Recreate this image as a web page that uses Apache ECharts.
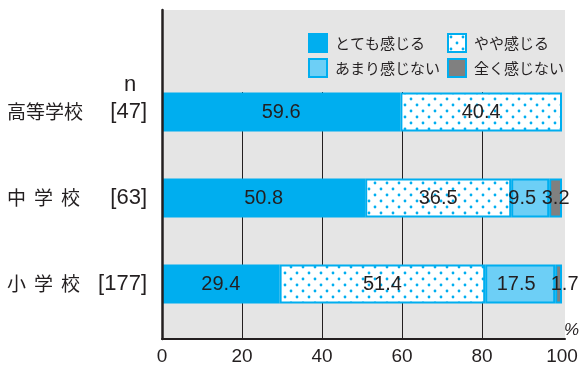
<!DOCTYPE html>
<html>
<head>
<meta charset="utf-8">
<script src="https://cdn.jsdelivr.net/npm/echarts@6/dist/echarts.min.js"></script>
<style>
  html, body { margin: 0; padding: 0; background: #ffffff; }
  #chart { width: 583px; height: 366px; }
</style>
</head>
<body>
<div id="chart"></div>
<script>
// Survey answers by school level (percent of respondents)
const categories = ['高等学校', '中学校', '小学校'];
const sampleSizes = [47, 63, 177];
const seriesNames = ['とても感じる', 'やや感じる', 'あまり感じない', '全く感じない'];
const veryMuch = [59.6, 50.8, 29.4];
const somewhat = [40.4, 36.5, 51.4];
const notMuch = [0, 9.5, 17.5];
const notAtAll = [0, 3.2, 1.7];
const xTicks = [0, 20, 40, 60, 80, 100];

const BLUE = '#00aeef';
const LIGHT = '#6dcff6';
const GREY = '#808080';
const INK = '#231f20';
const CJK = '"Noto Sans CJK JP", sans-serif';
const LATIN = '"Liberation Sans", Arial, sans-serif';

// dotted fill: white tile with offset rows of small blue dots
function dotTile() {
  const c = document.createElement('canvas');
  c.width = 12; c.height = 12;
  const g = c.getContext('2d');
  g.fillStyle = '#ffffff';
  g.fillRect(0, 0, 12, 12);
  g.fillStyle = BLUE;
  [[3, 3], [9, 9]].forEach(([x, y]) => {
    g.beginPath(); g.arc(x, y, 1.4, 0, Math.PI * 2); g.fill();
  });
  return c;
}
const dotted = { image: dotTile(), repeat: 'repeat' };

// per-label nudges for the narrow segments
const labelNudge = { 'あまり感じない': [-8, -4], '全く感じない': [0, 6] };

function build(name, values, fill) {
  return {
    name: name,
    type: 'bar',
    stack: 'total',
    xAxisIndex: 1,
    yAxisIndex: 1,
    barWidth: 39,
    itemStyle: { color: fill, borderColor: BLUE, borderWidth: 2 },
    label: {
      show: true,
      position: 'inside',
      color: INK,
      fontFamily: LATIN,
      fontSize: 20,
      formatter: p => p.value.toFixed(1)
    },
    data: values.map((v, i) => {
      if (!v) return '-';
      const nudge = labelNudge[name];
      if (nudge && i > 0) {
        return { value: v, label: { offset: [nudge[i - 1], 0] } };
      }
      return v;
    })
  };
}

const chart = echarts.init(document.getElementById('chart'), null, { renderer: 'canvas' });

const nameBox = 100;
chart.setOption({
  animation: false,
  backgroundColor: '#ffffff',
  grid: [
    // plot backdrop with the two axis lines
    { left: 162, right: 18, top: 10, bottom: 27, show: true, backgroundColor: '#e5e5e5', borderWidth: 0, z: -1 },
    // bars
    { left: 162, right: 21, top: 69, bottom: 39 },
    // vertical guides and the value scale
    { left: 162, right: 21, top: 92, bottom: 27 }
  ],
  legend: [
    {
      data: [seriesNames[0], seriesNames[2]],
      orient: 'vertical', left: 303, top: 28,
      itemWidth: 18, itemHeight: 18, itemGap: 5, icon: 'rect',
      textStyle: { fontFamily: CJK, fontSize: 15, color: INK, padding: [0, 0, 0, 3] }
    },
    {
      data: [seriesNames[1], seriesNames[3]],
      orient: 'vertical', left: 442, top: 28,
      itemWidth: 18, itemHeight: 18, itemGap: 5, icon: 'rect',
      textStyle: { fontFamily: CJK, fontSize: 15, color: INK, padding: [0, 0, 0, 3] }
    }
  ],
  xAxis: [
    {
      gridIndex: 0, type: 'value', min: 0, max: 100, z: 5,
      axisLine: { show: true, lineStyle: { color: INK, width: 2 } },
      axisTick: { show: false }, axisLabel: { show: false }, splitLine: { show: false }
    },
    {
      gridIndex: 1, type: 'value', min: 0, max: 100, show: false
    },
    {
      gridIndex: 2, type: 'value', min: xTicks[0], max: xTicks[xTicks.length - 1], interval: 20,
      axisLine: { show: false }, axisTick: { show: false },
      axisLabel: { show: true, margin: 9, color: INK, fontFamily: LATIN, fontSize: 19 },
      splitLine: { show: true, showMinLine: false, showMaxLine: false, lineStyle: { color: INK, width: 1 } }
    }
  ],
  yAxis: [
    {
      gridIndex: 0, type: 'value', min: 0, max: 1, z: 5,
      axisLine: { show: true, onZero: false, lineStyle: { color: INK, width: 2.5 } },
      axisTick: { show: false }, axisLabel: { show: false }, splitLine: { show: false }
    },
    {
      gridIndex: 1, type: 'category', inverse: true, data: categories,
      axisLine: { show: false }, axisTick: { show: false },
      axisLabel: {
        margin: 15,
        formatter: (v, i) => {
          const chars = Array.from(v);
          let head;
          if (chars.length === 3) {
            head = `{c|${chars[0]}}{c|${chars[1]}}{e|${chars[2]}}`;
          } else {
            head = `{n|${v}}`;
          }
          return head + `{m|[${sampleSizes[i]}]}`;
        },
        rich: {
          n: { fontFamily: CJK, fontSize: 19, color: INK, width: nameBox, align: 'left' },
          c: { fontFamily: CJK, fontSize: 19, color: INK, width: 27, align: 'left' },
          e: { fontFamily: CJK, fontSize: 19, color: INK, width: nameBox - 54, align: 'left' },
          m: { fontFamily: LATIN, fontSize: 22, color: INK, width: 40, align: 'right' }
        }
      }
    },
    { gridIndex: 2, type: 'value', show: false }
  ],
  graphic: [
    { type: 'text', left: 124, top: 74, style: { text: 'n', font: '22px "Liberation Sans"', fill: INK } },
    { type: 'text', left: 564, top: 322, style: { text: '%', font: 'italic 17px "Liberation Sans"', fill: INK } }
  ],
  series: [
    build(seriesNames[0], veryMuch, BLUE),
    build(seriesNames[1], somewhat, dotted),
    build(seriesNames[2], notMuch, LIGHT),
    build(seriesNames[3], notAtAll, GREY)
  ]
});
</script>
</body>
</html>
